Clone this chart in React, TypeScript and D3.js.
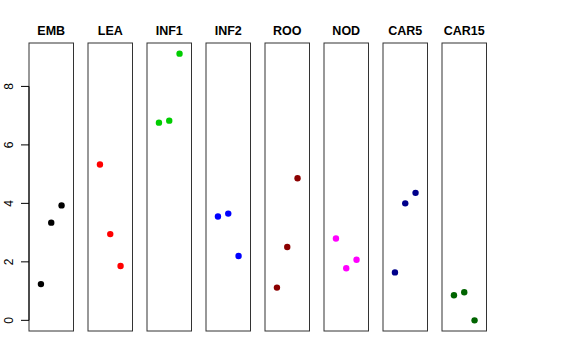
import React from "react";
import * as d3 from "d3";

const tissues = ["EMB", "LEA", "INF1", "INF2", "ROO", "NOD", "CAR5", "CAR15"];
const colors = ["#000000", "#ff0000", "#00cd00", "#0000ff", "#8b0000", "#ff00ff", "#00008b", "#006400"];
const values = [
  [1.24, 3.34, 3.93],
  [5.33, 2.95, 1.86],
  [6.76, 6.83, 9.12],
  [3.55, 3.65, 2.2],
  [1.12, 2.51, 4.86],
  [2.8, 1.78, 2.07],
  [1.64, 4.0, 4.36],
  [0.86, 0.96, 0.0],
];
const yTicks = [0, 2, 4, 6, 8];

const width = 576;
const height = 360;
const panelW = 44.5;
const firstLeft = 29;
const step = 59;
const top = 43;
const bottom = 331;

export default function App() {
  const yMax = d3.max(values.flat()) as number;
  const pad = yMax * 0.04;
  const y = d3.scaleLinear().domain([-pad, yMax + pad]).range([bottom, top]);

  return (
    <svg width={width} height={height} style={{ position: "absolute", left: 0, top: 0 }}>
      <rect width={width} height={height} fill="white" />
      {tissues.map((name, i) => {
        const left = firstLeft + i * step;
        const x = d3.scaleLinear().domain([-0.16, 4.16]).range([left, left + panelW]);
        return (
          <g key={name}>
            <text
              x={left + panelW / 2}
              y={34.5}
              textAnchor="middle"
              fontFamily="Liberation Sans, Arial, sans-serif"
              fontWeight="bold"
              fontSize={12.5}
            >
              {name}
            </text>
            <rect x={left} y={top} width={panelW} height={bottom - top} fill="none" stroke="#333" strokeWidth={1} />
            {values[i].map((v, j) => (
              <circle key={j} cx={x(j + 1)} cy={y(v)} r={3.2} fill={colors[i]} />
            ))}
          </g>
        );
      })}
      <g>
        <line x1={firstLeft} x2={firstLeft} y1={y(0)} y2={y(8)} stroke="#000" />
        {yTicks.map((t) => (
          <g key={t}>
            <line x1={firstLeft - 8} x2={firstLeft} y1={y(t)} y2={y(t)} stroke="#000" />
            <text
              transform={`translate(${12.5},${y(t)}) rotate(-90)`}
              textAnchor="middle"
              fontFamily="Liberation Sans, Arial, sans-serif"
              fontSize={12}
            >
              {t}
            </text>
          </g>
        ))}
      </g>
    </svg>
  );
}
